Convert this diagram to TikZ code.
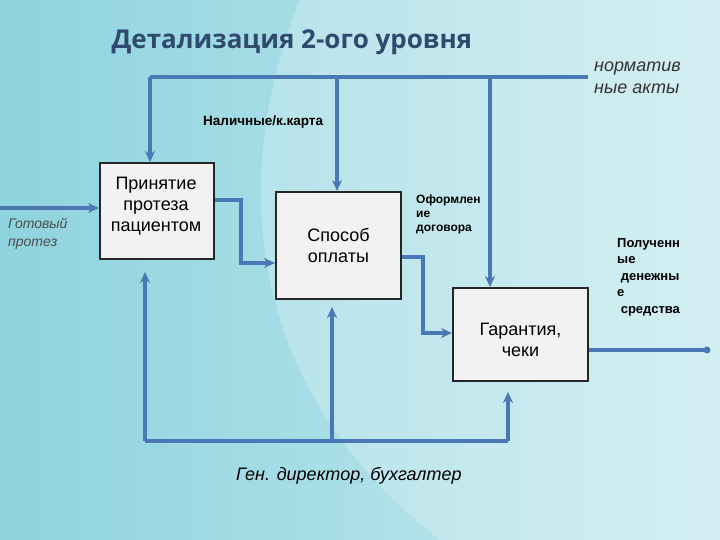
\documentclass[tikz,border=0pt]{standalone}
\usepackage{fontspec}
\setmainfont{Liberation Sans}
\newfontfamily\titlefont{Open Sans}
\usetikzlibrary{arrows.meta}
\definecolor{ln}{HTML}{4A78B4}
\definecolor{bgA}{HTML}{8ED3DE}
\definecolor{bgB}{HTML}{C8EBF0}
\definecolor{ttl}{HTML}{2F4A6E}
\definecolor{boxf}{HTML}{F2F2F2}
\begin{document}
\begin{tikzpicture}[x=1pt,y=-1pt,
  proc/.style={draw=black!85,line width=2pt,fill=boxf,align=center,font=\fontsize{18}{21}\selectfont},
  conn/.style={draw=ln,line width=3.5pt,-{Stealth[length=11pt,width=10pt]}},
  plain/.style={draw=ln,line width=3.5pt},
  lbl/.style={align=left,inner sep=0pt}]
\useasboundingbox (0,0) rectangle (720,540);
\shade[left color=bgA,right color=bgB] (0,0) rectangle (720,540);
\fill[white,opacity=0.22] (300,0) .. controls (220,200) and (260,400) .. (440,540) -- (720,540) -- (720,0) -- cycle;
\node[font=\titlefont\bfseries\fontsize{26}{30}\selectfont,text=ttl,anchor=west] (title) at (108,42) {Детализация 2-ого уровня};
\node[proc,minimum width=114pt,minimum height=96pt,anchor=north west] (b1) at (99,162) {};
\node[align=center,font=\fontsize{18}{21}\selectfont,anchor=north] (t1) at (156,174) {Принятие\\протеза\\пациентом};
\node[proc,minimum width=125pt,minimum height=107pt,anchor=north west] (b2) at (275,191) {Способ\\оплаты};
\node[proc,minimum width=135pt,minimum height=93pt,anchor=north west] (b3) at (452,287) {\\[2pt]Гарантия,\\чеки};
\coordinate (tl) at (150,77); \coordinate (tr) at (588,77);
\draw[plain] (tl) -- (tr);
\draw[conn] (tl) -- (b1.north -| tl);
\draw[conn] (337,77) -- (b2.north -| 337,0);
\draw[conn] (490,77) -- (b3.north -| 490,0);
\coordinate (in) at (0,208);
\draw[conn] (in) -- (in -| b1.west);
\draw[conn] (b1.east |- 0,200) -- (241,200) -- (241,263) -- (b2.west |- 0,263);
\draw[conn] (b2.east |- 0,257) -- (423,257) -- (423,333) -- (b3.west |- 0,333);
\coordinate (out) at (707,350);
\draw[plain] (b3.east |- out) -- (out); \fill[ln] (out) circle (3.5pt);
\coordinate (bl) at (145,441); \coordinate (br) at (508,441);
\draw[plain] (bl) -- (br);
\draw[conn] (bl) -- (145,272);
\draw[conn] (332,441) -- (332,307);
\draw[conn] (br) -- (508,392);
\node[lbl,font=\itshape\fontsize{14}{18}\selectfont,text=black!70,anchor=north west] (l1) at (8,218) {Готовый\\протез};
\node[lbl,font=\bfseries\fontsize{13.5}{16}\selectfont,anchor=west] (l2) at (203,122) {Наличные/к.карта};
\node[lbl,font=\itshape\fontsize{18}{22}\selectfont,text=black!80,anchor=north west] (l3) at (594,62) {норматив\\ные акты};
\node[lbl,font=\bfseries\fontsize{12}{14}\selectfont,anchor=north west] (l4) at (416,195) {Оформлен\\ие\\договора};
\node[lbl,font=\bfseries\fontsize{13}{16.5}\selectfont,anchor=north west] (l5) at (617,238) {Полученн\\ые\\\ денежны\\е\\\ средства};
\node[lbl,font=\itshape\fontsize{18}{22}\selectfont,anchor=west] (l6) at (236,476) {Ген. директор, бухгалтер};
\end{tikzpicture}
\end{document}
